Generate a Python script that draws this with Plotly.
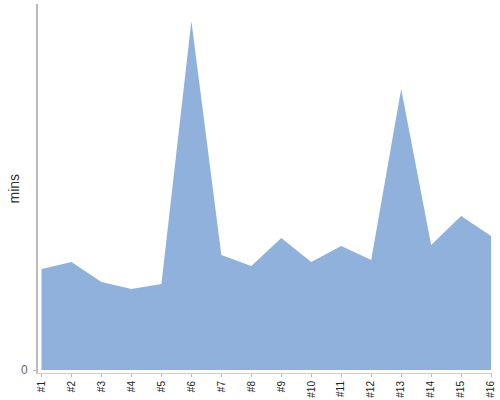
import plotly.graph_objects as go

categories = ["#1", "#2", "#3", "#4", "#5", "#6", "#7", "#8",
              "#9", "#10", "#11", "#12", "#13", "#14", "#15", "#16"]
mins = [101, 108, 88, 81, 86, 349, 115, 104, 132, 108, 124, 110, 281, 125, 154, 134]
y_title = "mins"

fig = go.Figure()
fig.add_trace(go.Scatter(
    x=list(range(len(categories))), y=mins,
    mode="lines", fill="tozeroy",
    line=dict(width=0, color="rgb(143,177,219)"),
    fillcolor="rgb(143,177,219)",
    hoverinfo="skip", showlegend=False,
))

fig.update_layout(
    width=500, height=400,
    margin=dict(l=38, r=8, t=4, b=27),
    paper_bgcolor="white", plot_bgcolor="white",
    font=dict(family="Liberation Sans, Arial, sans-serif", color="#333"),
    xaxis=dict(
        range=[-0.117, 15.03],
        tickmode="array",
        tickvals=list(range(len(categories))),
        ticktext=categories,
        tickangle=-90,
        ticks="outside", ticklen=3, tickcolor="#bbb",
        showline=True, linecolor="#ccc", linewidth=1,
        showgrid=False, zeroline=False,
        tickfont=dict(size=10, color="#222"),
        automargin=False,
    ),
    yaxis=dict(
        range=[-3, 366],
        tickvals=[0], ticktext=["0"],
        ticks="outside", ticklen=3, tickcolor="#bbb",
        ticklabelstandoff=3,
        showline=True, linecolor="#bbb", linewidth=2,
        showgrid=False, zeroline=False,
        tickfont=dict(size=12, color="#666"),
        automargin=False,
    ),
    annotations=[dict(
        text=y_title, textangle=-90, showarrow=False,
        xref="paper", yref="paper", x=-0.055, y=0.5,
        xanchor="center", yanchor="middle",
        font=dict(size=14, color="#333"),
    )],
)

fig.write_html(
    "out.html",
    config={"displayModeBar": False},
    post_script="document.body.style.margin='0';document.body.style.overflow='hidden';",
)
